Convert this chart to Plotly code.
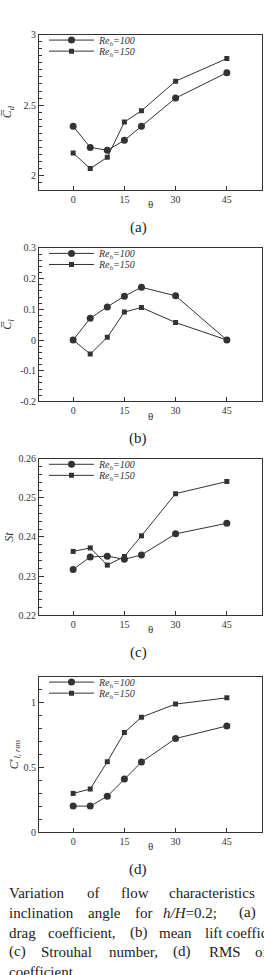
import plotly.graph_objects as go

# ---------------- data ----------------
theta = [0, 5, 10, 15, 20, 30, 45]

cd_re100 = [2.35, 2.20, 2.18, 2.25, 2.35, 2.55, 2.73]
cd_re150 = [2.16, 2.05, 2.13, 2.38, 2.46, 2.67, 2.83]

cl_re100 = [0.0, 0.071, 0.108, 0.143, 0.172, 0.144, 0.0]
cl_re150 = [0.0, -0.046, 0.009, 0.091, 0.106, 0.057, 0.0]

st_re100 = [0.2317, 0.2349, 0.2351, 0.2343, 0.2354, 0.2408, 0.2435]
st_re150 = [0.2363, 0.2372, 0.2328, 0.2350, 0.2403, 0.2511, 0.2542]

clrms_re100 = [0.200, 0.200, 0.276, 0.410, 0.540, 0.722, 0.819]
clrms_re150 = [0.298, 0.332, 0.543, 0.768, 0.887, 0.988, 1.036]

series_names = ["<i>Re<sub>h</sub>=100</i>", "<i>Re<sub>h</sub>=150</i>"]

x_tickvals = [0, 15, 30, 45]
x_ticktext = ["0", "15", "30", "45"]
x_title = "\u03b8"

cd_tickvals = [2, 2.5, 3]
cd_ticktext = ["2", "2.5", "3"]
cl_tickvals = [-0.2, -0.1, 0, 0.1, 0.2, 0.3]
cl_ticktext = ["-0.2", "-0.1", "0", "0.1", "0.2", "0.3"]
st_tickvals = [0.22, 0.23, 0.24, 0.25, 0.26]
st_ticktext = ["0.22", "0.23", "0.24", "0.25", "0.26"]
rms_tickvals = [0, 0.5, 1]
rms_ticktext = ["0", "0.5", "1"]

panel_labels = ["(a)", "(b)", "(c)", "(d)"]

caption_lines = [
    ["Variation", "of", "flow", "characteristics"],
    ["inclination", "angle", "for", "<i>h/H</i>=0.2;", "(a)"],
    ["drag", "coefficient,", "(b)", "mean", "lift", "coefficient,"],
    ["(c)", "Strouhal", "number,", "(d)", "RMS", "of"],
    ["coefficient."],
]
caption_word_x = [
    [7.3, 85, 119.3, 167.3],
    [7.3, 86, 132.7, 160.7, 236.7],
    [7.3, 46, 127.7, 156.7, 203, 224],
    [7.3, 39.3, 106.7, 171, 206.7, 253.3],
    [7.3],
]
caption_line_y = [898.3, 918.3, 938.3, 957.7, 978]

# ---------------- layout helpers ----------------
W, H = 264, 975
FONT = "Liberation Serif"
INK = "#333333"


def px(x):
    return x / W


def py(y):
    return 1 - y / H


panels = [
    dict(top=29, bot=186, yr=[1.9, 3.0], tv=cd_tickvals, tt=cd_ticktext, minor=0.05,
         title="<i>C\u0305<sub>d</sub></i>", standoff=12, data=(cd_re100, cd_re150)),
    dict(top=245, bot=400.3, yr=[-0.2, 0.3], tv=cl_tickvals, tt=cl_ticktext, minor=0.02,
         title="<i>C\u0305<sub>l</sub></i>", standoff=6, data=(cl_re100, cl_re150)),
    dict(top=458.5, bot=616.7, yr=[0.22, 0.26], tv=st_tickvals, tt=st_ticktext, minor=0.002,
         title="<i>St</i>", standoff=2, data=(st_re100, st_re150)),
    dict(top=679, bot=836.3, yr=[0, 1.2], tv=rms_tickvals, tt=rms_ticktext, minor=0.1,
         title="<i>C</i>\u2032<sub><i>l, rms</i></sub>", standoff=2, data=(clrms_re100, clrms_re150)),
]

fig = go.Figure()
layout = dict(
    width=W, height=H,
    margin=dict(l=0, r=0, t=0, b=0),
    paper_bgcolor="white", plot_bgcolor="white",
    font=dict(family=FONT, color=INK, size=10),
    annotations=[],
)

symbols = ["circle", "square"]
sizes = [7, 5]
legend_idx = 0
for i, p in enumerate(panels):
    n = "" if i == 0 else str(i + 1)
    xa, ya = "x" + n, "y" + n
    for k in range(2):
        legend_idx += 1
        lname = "legend" if legend_idx == 1 else "legend%d" % legend_idx
        fig.add_trace(go.Scatter(
            x=theta, y=p["data"][k], xaxis=xa, yaxis=ya,
            mode="lines+markers", name=series_names[k],
            line=dict(color=INK, width=1),
            marker=dict(symbol=symbols[k], size=sizes[k], color=INK),
            legend=lname, showlegend=True,
        ))
        row_y = p["top"] + (8.5 if k == 0 else 19.7) - 3
        layout[lname] = dict(
            x=px(44), xanchor="left", y=py(row_y), yanchor="middle",
            bgcolor="rgba(0,0,0,0)", borderwidth=0, itemwidth=45,
            font=dict(family=FONT, size=10, color=INK),
        )
    common = dict(showline=True, linecolor=INK, linewidth=1, mirror=True,
                  ticks="inside", tickcolor=INK, showgrid=False, zeroline=False,
                  tickfont=dict(family=FONT, size=10, color=INK))
    layout["xaxis" + n] = dict(
        domain=[px(39), px(262)], anchor=ya, range=[-10, 55.3],
        tickmode="array", tickvals=x_tickvals, ticktext=x_ticktext, ticklen=4,
        **common)
    layout["yaxis" + n] = dict(
        domain=[py(p["bot"]), py(p["top"])], anchor=xa, range=p["yr"],
        tickmode="array", tickvals=p["tv"], ticktext=p["tt"], ticklen=5,
        minor=dict(tickmode="linear", tick0=p["yr"][0], dtick=p["minor"],
                   ticks="inside", ticklen=3, tickcolor=INK),
        title=dict(text=p["title"], font=dict(family=FONT, size=12, color=INK),
                   standoff=p["standoff"]),
        **common)
    # x-axis title (theta)
    layout["annotations"].append(dict(
        text=x_title, x=px(150), y=py(p["bot"] + 14.5), xref="paper", yref="paper",
        xanchor="center", yanchor="middle", showarrow=False,
        font=dict(family=FONT, size=11, color=INK)))
    layout["annotations"].append(dict(
        text=panel_labels[i], x=px(138), y=py(p["bot"] + 38), xref="paper", yref="paper",
        xanchor="center", yanchor="middle", showarrow=False,
        font=dict(family=FONT, size=15, color="#222222")))

for words, xs, yl in zip(caption_lines, caption_word_x, caption_line_y):
    for w, xw in zip(words, xs):
        layout["annotations"].append(dict(
            text=w, x=px(xw), y=py(yl), xref="paper", yref="paper",
            xanchor="left", yanchor="middle", showarrow=False,
            font=dict(family=FONT, size=15, color="#222222")))

fig.update_layout(**layout)
fig.write_html("out.html")
